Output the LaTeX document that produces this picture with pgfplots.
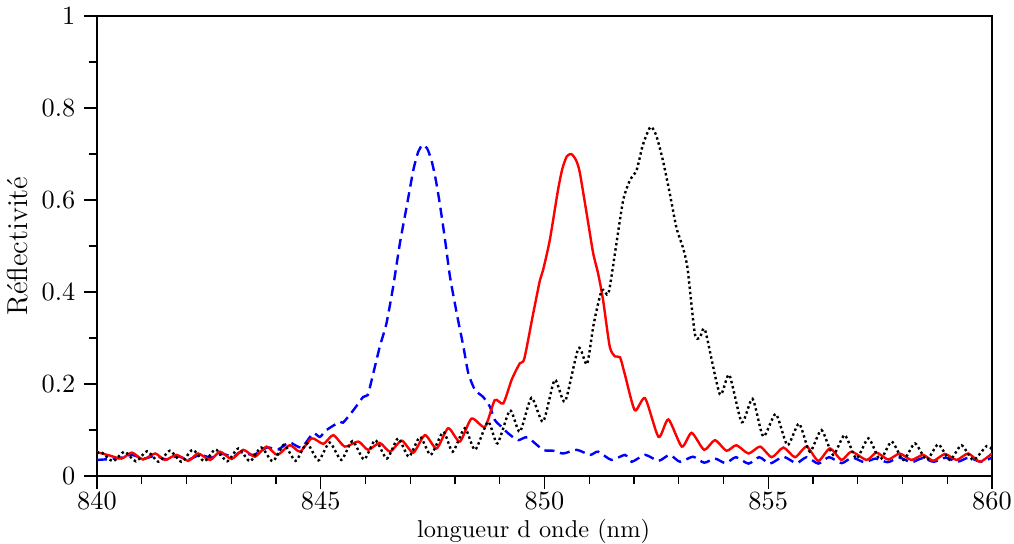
\documentclass[border=0pt]{standalone}
\usepackage{fontspec}
\usepackage{pgfplots}
\pgfplotsset{compat=1.18}
\begin{document}
\begin{tikzpicture}
\begin{axis}[name=ax,
  scale only axis, width=373pt, height=191.7pt,
  xmin=840, xmax=860, ymin=0, ymax=1,
  xtick={840,845,850,855,860}, ytick={0,0.2,0.4,0.6,0.8,1},
  minor x tick num=4, minor y tick num=1,
  tick align=outside, xtick pos=left, ytick pos=left,
  major tick length=5.5pt, minor tick length=3.5pt,
  tick style={black, line width=0.5pt},
  axis line style={line width=0.6pt},
  tick label style={font=\fontsize{10.6}{13}\selectfont},
  xticklabel style={yshift=2pt},
  xlabel={longueur d onde (nm)}, ylabel={Réflectivité},
  xlabel style={font=\fontsize{10.15}{12}\selectfont, yshift=3pt, xshift=-4.5pt},
  ylabel style={font=\fontsize{12}{14}\selectfont, yshift=-1pt},
  every axis plot/.append style={line width=1pt},
]
% blue dashed
\addplot[blue, smooth, tension=0.4, dash pattern=on 4.2pt off 2.4pt] coordinates {
(840.0,0.035) (840.3,0.037) (840.55,0.040) (840.78,0.046) (841.05,0.038) (841.3,0.044) (841.55,0.036) (841.8,0.043) (842.05,0.036) (842.3,0.046) (842.55,0.040) (842.8,0.048) (843.05,0.042) (843.2,0.052) (843.5,0.046) (843.8,0.062) (844.05,0.058) (844.3,0.073) (844.57,0.062) (844.83,0.093) (844.98,0.085) (845.13,0.100) (845.43,0.118) (845.5,0.116) (845.73,0.143) (845.95,0.172) (846.05,0.176) (846.14,0.209) (846.32,0.281) (846.47,0.332) (846.62,0.412) (846.77,0.506) (846.92,0.585) (847.07,0.665) (847.18,0.705) (847.28,0.720) (847.38,0.712) (847.48,0.685) (847.57,0.645) (847.66,0.593) (847.78,0.513) (847.89,0.433) (848.04,0.354) (848.19,0.281) (848.3,0.223) (848.45,0.187) (848.63,0.172) (848.78,0.151) (848.89,0.122) (849.04,0.107) (849.2,0.092) (849.41,0.078) (849.62,0.084) (849.97,0.057) (850.2,0.055) (850.42,0.049) (850.72,0.057) (851.02,0.046) (851.2,0.053) (851.5,0.035) (851.8,0.046) (851.95,0.031) (852.25,0.046) (852.55,0.033) (852.8,0.046) (853.03,0.031) (853.32,0.042) (853.57,0.029) (853.81,0.038) (854.05,0.028) (854.28,0.041) (854.56,0.027) (854.8,0.041) (855.04,0.027) (855.34,0.042) (855.63,0.028) (855.86,0.041) (856.12,0.027) (856.36,0.041) (856.64,0.028) (856.88,0.040) (857.15,0.030) (857.4,0.038) (857.67,0.030) (857.93,0.040) (858.2,0.030) (858.45,0.039) (858.7,0.031) (858.97,0.040) (859.23,0.031) (859.48,0.040) (859.75,0.031) (860.0,0.040)
};
% red solid
\addplot[red, smooth, tension=0.4] coordinates {
(840.0,0.052) (840.27,0.045) (840.55,0.038) (840.78,0.051) (841.03,0.036) (841.3,0.049) (841.52,0.035) (841.78,0.046) (842.04,0.033) (842.26,0.049) (842.53,0.035) (842.75,0.053) (843.01,0.037) (843.27,0.057) (843.53,0.042) (843.79,0.064) (844.03,0.046) (844.31,0.067) (844.54,0.053) (844.8,0.082) (845.06,0.070) (845.28,0.089) (845.54,0.064) (845.84,0.075) (846.06,0.057) (846.32,0.072) (846.55,0.053) (846.81,0.077) (847.07,0.051) (847.33,0.089) (847.59,0.060) (847.85,0.104) (848.11,0.075) (848.37,0.125) (848.67,0.107) (848.89,0.165) (849.08,0.158) (849.27,0.210) (849.45,0.245) (849.55,0.255) (849.75,0.354) (849.9,0.426) (849.97,0.448) (850.12,0.513) (850.3,0.620) (850.4,0.668) (850.5,0.695) (850.6,0.700) (850.7,0.688) (850.79,0.660) (850.98,0.549) (851.09,0.484) (851.2,0.440) (851.31,0.383) (851.46,0.281) (851.58,0.260) (851.69,0.258) (851.8,0.220) (852.02,0.143) (852.25,0.169) (852.55,0.085) (852.77,0.123) (853.07,0.064) (853.29,0.094) (853.57,0.057) (853.81,0.078) (854.07,0.055) (854.29,0.067) (854.56,0.049) (854.82,0.064) (855.08,0.041) (855.34,0.062) (855.6,0.041) (855.86,0.064) (856.12,0.033) (856.38,0.060) (856.64,0.035) (856.86,0.053) (857.2,0.035) (857.42,0.051) (857.68,0.036) (857.94,0.049) (858.2,0.035) (858.46,0.046) (858.69,0.033) (858.95,0.048) (859.21,0.035) (859.47,0.049) (859.73,0.031) (860.0,0.049)
};
% black dotted
\addplot[black, smooth, tension=0.4, dash pattern=on 1pt off 1.2pt] coordinates {
(840.0,0.049) (840.10,0.052) (840.36,0.032) (840.61,0.053) (840.87,0.032) (841.12,0.054) (841.38,0.031) (841.63,0.055) (841.89,0.031) (842.14,0.057) (842.40,0.032) (842.65,0.058) (842.91,0.032) (843.16,0.060) (843.42,0.032) (843.67,0.062) (843.93,0.032) (844.18,0.068) (844.44,0.033) (844.69,0.071) (844.95,0.034) (845.20,0.073) (845.46,0.035) (845.71,0.076) (845.97,0.036) (846.22,0.078) (846.48,0.038) (846.73,0.082) (846.97,0.042) (847.22,0.085) (847.46,0.046) (847.74,0.096) (847.95,0.053) (848.22,0.104) (848.45,0.057) (848.74,0.118) (848.95,0.071) (849.23,0.143) (849.45,0.096) (849.71,0.170) (849.97,0.118) (850.23,0.209) (850.46,0.162) (850.76,0.278) (850.95,0.243) (851.1,0.330) (851.28,0.404) (851.43,0.397) (851.6,0.500) (851.76,0.600) (851.91,0.643) (852.06,0.665) (852.2,0.720) (852.37,0.759) (852.5,0.740) (852.65,0.685) (852.8,0.615) (852.95,0.540) (853.10,0.495) (853.2,0.450) (853.36,0.310) (853.47,0.300) (853.59,0.317) (853.92,0.178) (854.13,0.220) (854.41,0.117) (854.65,0.168) (854.89,0.086) (855.17,0.135) (855.43,0.067) (855.69,0.114) (855.93,0.053) (856.19,0.100) (856.45,0.046) (856.71,0.089) (856.97,0.038) (857.24,0.082) (857.50,0.036) (857.76,0.075) (858.02,0.035) (858.28,0.071) (858.54,0.035) (858.80,0.069) (859.06,0.035) (859.32,0.067) (859.58,0.035) (859.88,0.065) (860.0,0.058)
};
\end{axis}
\pgfresetboundingbox
\path[use as bounding box] ([xshift=-40.4pt, yshift=-28.3pt]ax.south west) rectangle ([xshift=9.2pt, yshift=6.7pt]ax.north east);
\end{tikzpicture}
\end{document}
